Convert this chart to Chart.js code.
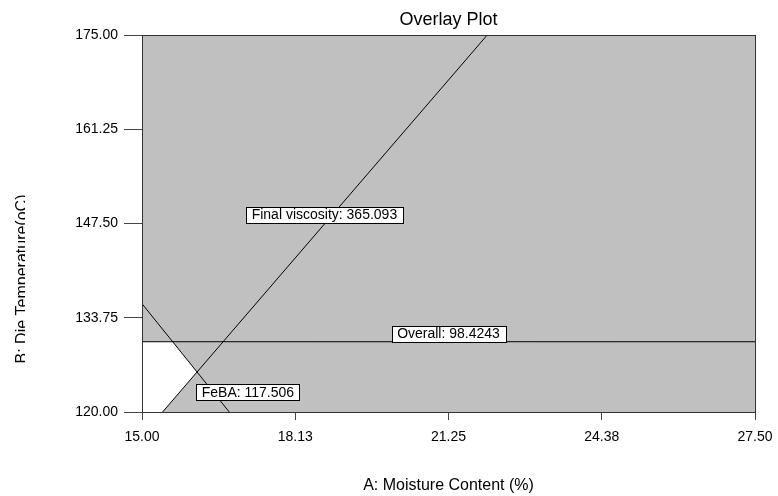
<!DOCTYPE html>
<html>
<head>
<meta charset="utf-8">
<script src="https://cdn.jsdelivr.net/npm/chart.js@4.4.1/dist/chart.umd.min.js"></script>
<style>
  html, body { margin: 0; padding: 0; background: #fff; }
  #wrap { width: 778px; height: 496px; }
</style>
</head>
<body>
<div id="wrap"><canvas id="chart" width="778" height="496"></canvas></div>
<script>
// Axis ticks (A: moisture, B: die temperature)
const xTicks = [15, 18.125, 21.25, 24.375, 27.5];
const xTickLabels = ['15.00', '18.13', '21.25', '24.38', '27.50'];
const yTicks = [120, 133.75, 147.5, 161.25, 175];
const yTickLabels = ['120.00', '133.75', '147.50', '161.25', '175.00'];

// Contour lines
const viscosityLine = [{ x: 15.42, y: 120 }, { x: 22.04, y: 175 }];
const febaLine = [{ x: 15, y: 135.8 }, { x: 16.78, y: 120 }];
const overallLine = [{ x: 15, y: 130.25 }, { x: 27.5, y: 130.25 }];

// Contour names / values and where their flags sit (data units)
const contourNames = ['Final viscosity', 'Overall', 'FeBA'];
const contourValues = ['365.093', '98.4243', '117.506'];
const flagAnchors = [{ x: 18.72, y: 148.8 }, { x: 21.25, y: 131.45 }, { x: 17.16, y: 122.85 }];

// x position of a 2-point line at a given y
function xAtY(line, y) {
  const [a, b] = line;
  return a.x + (y - a.y) * (b.x - a.x) / (b.y - a.y);
}
function intersect(l1, l2) {
  const [a, b] = l1, [c, d] = l2;
  const m1 = (b.y - a.y) / (b.x - a.x), m2 = (d.y - c.y) / (d.x - c.x);
  const x = (c.y - a.y + m1 * a.x - m2 * c.x) / (m1 - m2);
  return { x: x, y: a.y + m1 * (x - a.x) };
}

// the white (feasible) window, bounded by the three contours
const ymin = yTicks[0], xmin = xTicks[0];
const cross = intersect(febaLine, viscosityLine);
const whiteRegion = [
  { x: xmin, y: ymin },
  { x: xmin, y: overallLine[0].y },
  { x: xAtY(febaLine, overallLine[0].y), y: overallLine[0].y },
  cross,
  { x: xAtY(viscosityLine, ymin), y: ymin },
  { x: xmin, y: ymin }
];

const FONT = 'Liberation Sans, Arial, sans-serif';

// grey backdrop, frame, title, y title and contour flags
const overlayPlugin = {
  id: 'overlay',
  beforeDraw(chart) {
    const { ctx, chartArea: a } = chart;
    ctx.save();
    ctx.fillStyle = '#c0c0c0';
    ctx.fillRect(a.left, a.top, a.right - a.left, a.bottom - a.top);
    ctx.restore();
  },
  afterDatasetsDraw(chart) {
    const { ctx, chartArea: a, scales } = chart;
    ctx.save();
    ctx.strokeStyle = '#333';
    ctx.lineWidth = 1;
    ctx.strokeRect(a.left + 0.5, a.top + 0.5, a.right - a.left, a.bottom - a.top);

    ctx.font = '14px ' + FONT;
    ctx.textBaseline = 'middle';
    ctx.textAlign = 'center';
    flagAnchors.forEach((p, i) => {
      const txt = contourNames[i] + ': ' + contourValues[i];
      const px = scales.x.getPixelForValue(p.x);
      const py = scales.y.getPixelForValue(p.y);
      const w = ctx.measureText(txt).width + 11;
      const h = 16;
      const bx = Math.round(px - w / 2) + 0.5, by = Math.round(py - h / 2) + 0.5;
      ctx.fillStyle = '#fff';
      ctx.fillRect(bx, by, Math.round(w), h);
      ctx.strokeStyle = '#000';
      ctx.strokeRect(bx, by, Math.round(w), h);
      ctx.fillStyle = '#000';
      ctx.fillText(txt, px, py + 1);
    });
    ctx.restore();
  },
  afterDraw(chart) {
    const { ctx, chartArea: a } = chart;
    ctx.save();
    ctx.fillStyle = '#000';
    ctx.font = '18px ' + FONT;
    ctx.textAlign = 'center';
    ctx.textBaseline = 'middle';
    ctx.fillText('Overlay Plot', (a.left + a.right) / 2, 20);

    // y title is cut along its baseline in the original
    ctx.beginPath();
    ctx.rect(0, 0, 25, chart.height);
    ctx.clip();
    ctx.translate(27, 279);
    ctx.rotate(-Math.PI / 2);
    ctx.font = '16px ' + FONT;
    ctx.textBaseline = 'alphabetic';
    ctx.fillText('B: Die Temperature(oC)', 0, 0);
    ctx.restore();
  }
};

const lineStyle = {
  showLine: true, borderColor: '#000', borderWidth: 1,
  pointRadius: 0, fill: false, order: 0
};

new Chart(document.getElementById('chart'), {
  type: 'scatter',
  data: {
    datasets: [
      { data: viscosityLine, ...lineStyle },
      { data: febaLine, ...lineStyle },
      { data: overallLine, ...lineStyle },
      {
        data: whiteRegion, showLine: true, borderWidth: 0, borderColor: 'rgba(0,0,0,0)',
        backgroundColor: '#fff', fill: 'shape', pointRadius: 0, order: 10
      }
    ]
  },
  options: {
    responsive: false,
    animation: false,
    layout: { padding: { left: 0, right: 23, top: 35, bottom: 0 } },
    plugins: {
      legend: { display: false },
      tooltip: { enabled: false },
      title: { display: false }
    },
    scales: {
      x: {
        type: 'linear', min: 15, max: 27.5,
        afterBuildTicks: s => { s.ticks = xTicks.map(v => ({ value: v })); },
        afterFit: s => { s.height = 84; s.paddingLeft = 0; s.paddingRight = 0; },
        ticks: {
          color: '#000', font: { family: FONT, size: 14 }, padding: 9,
          maxRotation: 0, autoSkip: false,
          callback: (v, i) => xTickLabels[i]
        },
        grid: { drawOnChartArea: false, drawTicks: true, tickLength: 8, color: '#444' },
        border: { display: true, color: '#333' },
        title: {
          display: true, text: 'A: Moisture Content (%)', color: '#000',
          font: { family: FONT, size: 16 }, padding: { top: 0, bottom: 1 }
        }
      },
      y: {
        type: 'linear', min: 120, max: 175,
        afterBuildTicks: s => { s.ticks = yTicks.map(v => ({ value: v })); },
        afterFit: s => { s.width = 142; s.paddingTop = 0; s.paddingBottom = 0; },
        ticks: {
          color: '#000', font: { family: FONT, size: 14 }, padding: 6,
          autoSkip: false,
          callback: (v, i) => yTickLabels[i]
        },
        grid: { drawOnChartArea: false, drawTicks: true, tickLength: 18, color: '#444' },
        border: { display: true, color: '#333' }
      }
    }
  },
  plugins: [overlayPlugin]
});
</script>
</body>
</html>
